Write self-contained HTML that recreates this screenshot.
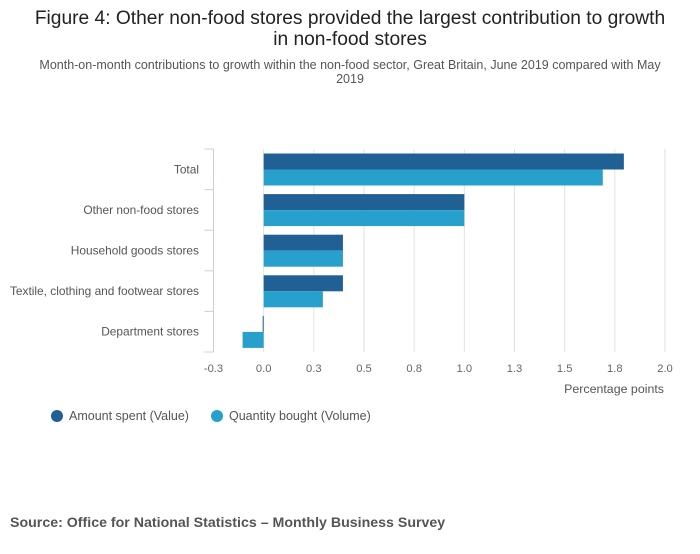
<!DOCTYPE html>
<html><head><meta charset="utf-8"><style>
body{margin:0;background:#fff;font-family:"Liberation Sans",sans-serif;}
svg text{font-family:"Liberation Sans",sans-serif;}
</style></head><body>
<svg width="700" height="549" viewBox="0 0 700 549">
<text x="350" y="24" text-anchor="middle" font-size="19.2" fill="#222">Figure 4: Other non-food stores provided the largest contribution to growth</text>
<text x="350" y="45" text-anchor="middle" font-size="19.2" fill="#222">in non-food stores</text>
<text x="350" y="69" text-anchor="middle" font-size="12.5" fill="#555">Month-on-month contributions to growth within the non-food sector, Great Britain, June 2019 compared with May</text>
<text x="350" y="83" text-anchor="middle" font-size="12.5" fill="#555">2019</text>
<g id="grid"></g><g id="bars"></g><g id="axes"></g>
<text x="664" y="393" text-anchor="end" font-size="12.4" fill="#555">Percentage points</text>
<g>
<circle cx="57" cy="416" r="6" fill="#206095"/>
<text x="69" y="420" font-size="12.5" fill="#555">Amount spent (Value)</text>
<circle cx="217" cy="416" r="6" fill="#27a0cc"/>
<text x="229" y="420" font-size="12.5" fill="#555">Quantity bought (Volume)</text>
</g>
<text x="10" y="527" font-size="14.2" font-weight="bold" fill="#555">Source: Office for National Statistics – Monthly Business Survey</text>
</svg>
<script>
const categories=["Total","Other non-food stores","Household goods stores","Textile, clothing and footwear stores","Department stores"];
const valueSeries=[1.795,1.0,0.395,0.395,-0.005];
const volumeSeries=[1.69,1.0,0.395,0.295,-0.105];
const xTicks=[-0.25,0,0.25,0.5,0.75,1.0,1.25,1.5,1.75,2.0];
const xTickLabels=["-0.3","0.0","0.3","0.5","0.8","1.0","1.3","1.5","1.8","2.0"];
const NS="http://www.w3.org/2000/svg";
const x0=213.5,x1=665,vmin=-0.25,vmax=2.0,yTop=149,yBot=352;
const xs=v=>x0+(v-vmin)/(vmax-vmin)*(x1-x0);
const band=(yBot-yTop)/categories.length;
function mk(p,t,a){const e=document.createElementNS(NS,t);for(const k in a)e.setAttribute(k,a[k]);p.appendChild(e);return e;}
const grid=document.getElementById('grid'),bars=document.getElementById('bars'),axes=document.getElementById('axes');
xTicks.forEach((t,i)=>{
 if(i>0){const l=mk(grid,'line',{x1:xs(t),x2:xs(t),y1:yTop,y2:yBot,stroke:'#e2e2e2'});
 
 }
 const tx=mk(axes,'text',{x:xs(t),y:372,'text-anchor':'middle','font-size':11.2,fill:'#666'});
 tx.textContent=xTickLabels[i];
 
 
});
const ax=mk(axes,'line',{x1:x0,x2:x0,y1:yTop,y2:yBot,stroke:'#c8d0e0'});


for(let i=0;i<=categories.length;i++){
 const y=yTop+i*band;
 const tk=mk(axes,'line',{x1:x0-9,x2:x0,y1:y,y2:y,stroke:'#c8d0e0'});
 
 
}
categories.forEach((c,i)=>{
 const yc=yTop+i*band;
 const lb=mk(axes,'text',{x:199,y:yc+band/2+4,'text-anchor':'end','font-size':11.9,fill:'#555'});
 lb.textContent=c;
 
 
 [[valueSeries,'#206095',0],[volumeSeries,'#27a0cc',1]].forEach(([s,col,k])=>{
  const v=s[i];const a=xs(Math.min(0,v)),b=xs(Math.max(0,v));
  const r=mk(bars,'rect',{x:a,y:yc+4.5+k*16,width:Math.max(b-a,1),height:16,fill:col});
  
  
 });
});
</script>
</body></html>
